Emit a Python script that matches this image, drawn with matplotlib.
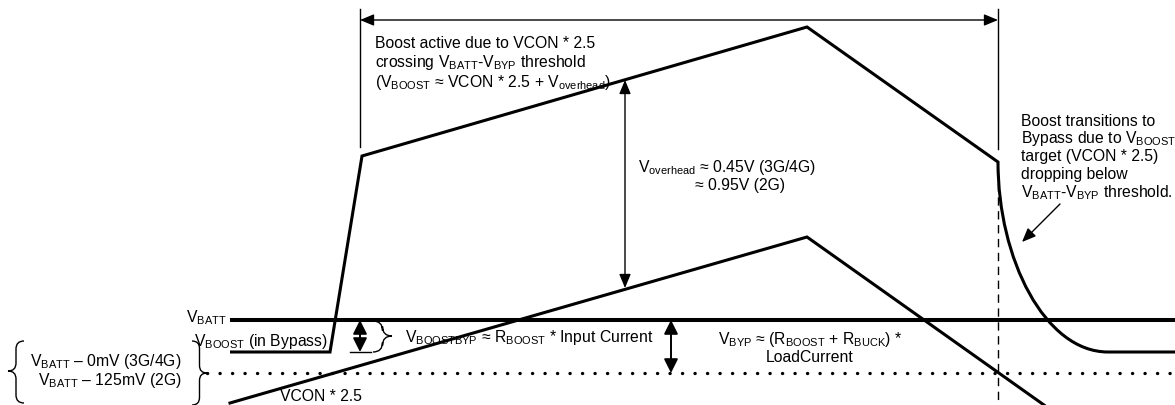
import matplotlib
matplotlib.use("Agg")
import matplotlib.pyplot as plt
from matplotlib.path import Path
import matplotlib.patches as mpatches

plt.rcParams['font.family'] = ['Liberation Sans', 'DejaVu Sans']
plt.rcParams['mathtext.fontset'] = 'custom'
plt.rcParams['mathtext.rm'] = 'Liberation Sans'
plt.rcParams['mathtext.it'] = 'Liberation Sans:italic'
plt.rcParams['mathtext.bf'] = 'Liberation Sans:bold'

# trace points (pixel-like units of the diagram)
vbatt_x = [230, 1180]
vbatt_y = [321, 321]
vboost_x = [230, 330, 362, 807, 998]
vboost_y = [353, 353, 157, 28, 163]
# bezier of the fall back into bypass, then flat
fall_x = [998, 1045, 1108, 1180]
fall_y = [260, 353, 353, 353]
vcon_x = [230, 807, 1044]
vcon_y = [404, 238, 406]
floor_x = [207, 1180]
floor_y = [374, 374]
boost_start = 360
boost_end = 998

fs = 11.3
BK = 'black'

fig = plt.figure(figsize=(11.75, 4.06), dpi=100)
ax = fig.add_axes([0, 0, 1, 1])
ax.set_xlim(0, 1175)
ax.set_ylim(406, 0)
ax.axis('off')

# VBATT
ax.plot(vbatt_x, vbatt_y, color=BK, lw=2.9, solid_capstyle='butt')

# VBOOST trace
verts = list(zip(vboost_x, vboost_y))
codes = [Path.MOVETO] + [Path.LINETO] * (len(verts) - 1)
verts += list(zip(fall_x[:3], fall_y[:3])) + [(fall_x[3], fall_y[3])]
codes += [Path.CURVE4] * 3 + [Path.LINETO]
ax.add_patch(mpatches.PathPatch(Path(verts, codes), fill=False, lw=2.2,
                                edgecolor=BK, joinstyle='miter', capstyle='butt'))

# VCON * 2.5
ax.plot(vcon_x, vcon_y, color=BK, lw=2.2, solid_joinstyle='miter')

# dotted bypass threshold
ax.plot(floor_x, floor_y, color=BK, lw=2.4, linestyle=(0, (0.05, 3.7)),
        dash_capstyle='round')

# markers of the boost window
ax.plot([boost_start, boost_start], [10, 148], color=BK, lw=1.0)
ax.plot([boost_end, boost_end], [10, 150], color=BK, lw=1.0)
ax.plot([boost_end, boost_end], [170, 406], color=BK, lw=1.0, linestyle=(0, (6, 4)))


def arrow(x0, y0, x1, y1, style='<|-|>', lw=1.0, hl=0.6, hw=0.25, ms=14):
    ax.annotate('', xy=(x1, y1), xytext=(x0, y0),
                arrowprops=dict(arrowstyle=f'{style},head_length={hl},head_width={hw}',
                                color=BK, lw=lw, mutation_scale=ms,
                                shrinkA=0, shrinkB=0))


arrow(boost_start, 21, boost_end, 21)
arrow(625, 81, 625, 289)
arrow(360, 321, 360, 353, lw=1.4, hl=0.6, hw=0.3)
ax.plot([350, 371], [353, 353], color=BK, lw=1.0)
arrow(671, 321, 671, 374, lw=1.4, hl=0.6, hw=0.3)
arrow(1060, 205, 1022, 243, style='-|>')


def brace(xe, xt, yt, yb, ym):
    xm = (xe + xt) / 2
    r = abs(xe - xt) / 2
    v = [(xe, yt), (xm, yt), (xm, yt + r), (xm, ym - r), (xm, ym), (xt, ym),
         (xm, ym), (xm, ym + r), (xm, yb - r), (xm, yb), (xe, yb)]
    c = [Path.MOVETO, Path.CURVE3, Path.CURVE3, Path.LINETO, Path.CURVE3, Path.CURVE3,
         Path.CURVE3, Path.CURVE3, Path.LINETO, Path.CURVE3, Path.CURVE3]
    ax.add_patch(mpatches.PathPatch(Path(v, c), fill=False, lw=1.0, edgecolor=BK))


brace(24, 8, 342, 404, 372)
brace(192, 207, 342, 406, 374)
brace(373, 392, 322, 353, 337)

# labels
def txt(x, y, s, ha='left'):
    ax.text(x, y, s, fontsize=fs, ha=ha, va='center', color=BK)


txt(375, 43, "Boost active due to VCON * 2.5")
txt(375, 63, r"crossing V$_\mathrm{BATT}$-V$_\mathrm{BYP}$ threshold")
txt(375, 82, r"(V$_\mathrm{BOOST}$ ≈ VCON * 2.5 + V$_\mathrm{overhead}$)")

txt(638, 168, r"V$_\mathrm{overhead}$ ≈ 0.45V (3G/4G)")
txt(695, 186, "≈ 0.95V (2G)")

txt(1021, 121, "Boost transitions to")
txt(1021, 139, r"Bypass due to V$_\mathrm{BOOST}$")
txt(1021, 157, "target (VCON * 2.5)")
txt(1021, 175, "dropping below")
txt(1021, 193, r"V$_\mathrm{BATT}$-V$_\mathrm{BYP}$ threshold.")

txt(227, 318, r"V$_\mathrm{BATT}$", ha='right')
txt(328, 342, r"V$_\mathrm{BOOST}$ (in Bypass)", ha='right')
txt(405, 338, r"V$_\mathrm{BOOSTBYP}$ ≈ R$_\mathrm{BOOST}$ * Input Current")
txt(810, 340, r"V$_\mathrm{BYP}$ ≈ (R$_\mathrm{BOOST}$ + R$_\mathrm{BUCK}$) *", ha='center')
txt(810, 358, "LoadCurrent", ha='center')
txt(182, 362, r"V$_\mathrm{BATT}$ – 0mV (3G/4G)", ha='right')
txt(182, 381, r"V$_\mathrm{BATT}$ – 125mV (2G)", ha='right')
txt(280, 397, "VCON * 2.5")

fig.savefig("out.png", dpi=100)
